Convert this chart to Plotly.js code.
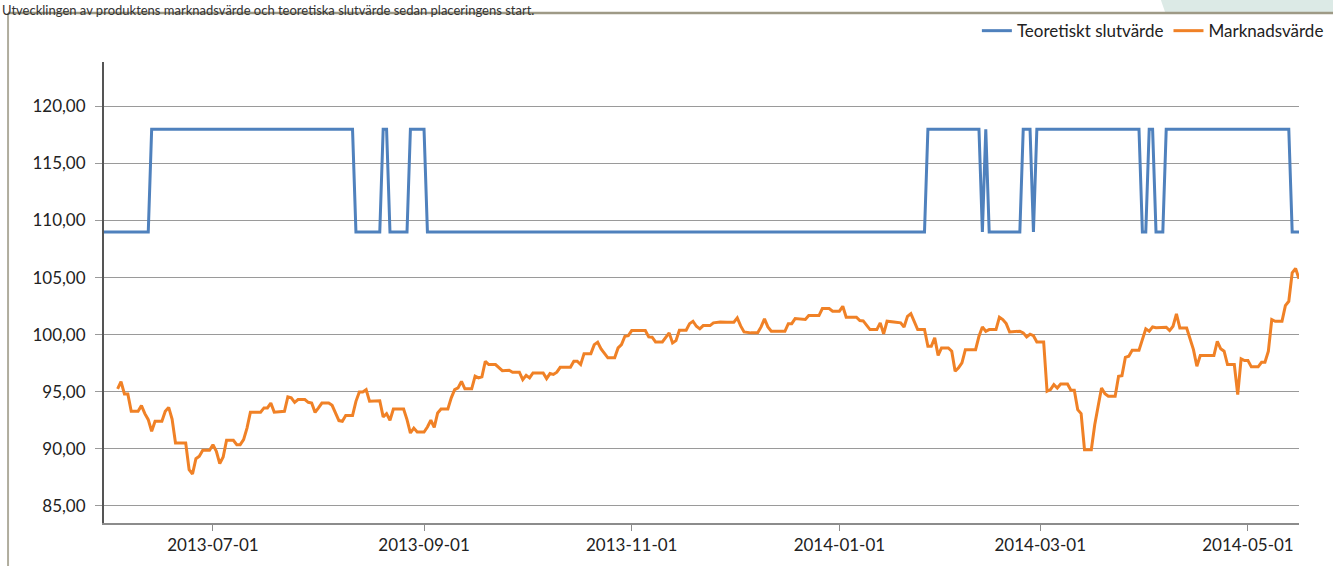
<!DOCTYPE html>
<html><head><meta charset="utf-8">
<script src="https://cdn.plot.ly/plotly-3.0.1.min.js"></script>
<style>html,body{margin:0;padding:0;background:#fff}#chart{width:1333px;height:566px}</style>
</head><body><div id="chart"></div>
<script>
const titleText = "Utvecklingen av produktens marknadsvärde och teoretiska slutvärde sedan placeringens start.";
const seriesNames = ["Teoretiskt slutvärde", "Marknadsvärde"];
const xTickVals = ["2013-07-01","2013-09-01","2013-11-01","2014-01-01","2014-03-01","2014-05-01"];
const xTickText = ["2013-07-01","2013-09-01","2013-11-01","2014-01-01","2014-03-01","2014-05-01"];

const teoDates = ["2013-05-30","2013-06-12","2013-06-13","2013-08-11","2013-08-12","2013-08-19","2013-08-20","2013-08-21","2013-08-22","2013-08-27","2013-08-28","2013-09-01","2013-09-02","2014-01-26","2014-01-27","2014-02-11","2014-02-12","2014-02-13","2014-02-14","2014-02-23","2014-02-24","2014-02-26","2014-02-27","2014-02-28","2014-03-30","2014-03-31","2014-04-01","2014-04-02","2014-04-03","2014-04-04","2014-04-06","2014-04-07","2014-05-13","2014-05-14","2014-05-16"];
const teoValues = [109,109,118,118,109,109,118,118,109,109,118,118,109,109,118,118,109,118,109,109,118,118,109,118,118,109,109,118,118,109,109,118,118,109,109];

const mktDates = ["2013-06-03","2013-06-04","2013-06-05","2013-06-06","2013-06-07","2013-06-09","2013-06-10","2013-06-11","2013-06-12","2013-06-13","2013-06-14","2013-06-16","2013-06-17","2013-06-18","2013-06-19","2013-06-20","2013-06-23","2013-06-24","2013-06-25","2013-06-26","2013-06-27","2013-06-28","2013-06-30","2013-07-01","2013-07-02","2013-07-03","2013-07-04","2013-07-05","2013-07-07","2013-07-08","2013-07-09","2013-07-10","2013-07-11","2013-07-12","2013-07-15","2013-07-16","2013-07-17","2013-07-18","2013-07-19","2013-07-22","2013-07-23","2013-07-24","2013-07-25","2013-07-26","2013-07-28","2013-07-29","2013-07-30","2013-07-31","2013-08-01","2013-08-02","2013-08-04","2013-08-05","2013-08-07","2013-08-08","2013-08-09","2013-08-11","2013-08-12","2013-08-13","2013-08-14","2013-08-15","2013-08-16","2013-08-19","2013-08-20","2013-08-21","2013-08-22","2013-08-23","2013-08-26","2013-08-27","2013-08-28","2013-08-29","2013-08-30","2013-09-01","2013-09-02","2013-09-03","2013-09-04","2013-09-05","2013-09-06","2013-09-08","2013-09-09","2013-09-10","2013-09-11","2013-09-12","2013-09-13","2013-09-15","2013-09-16","2013-09-17","2013-09-18","2013-09-19","2013-09-20","2013-09-22","2013-09-24","2013-09-26","2013-09-27","2013-09-29","2013-09-30","2013-10-01","2013-10-02","2013-10-03","2013-10-06","2013-10-07","2013-10-08","2013-10-09","2013-10-10","2013-10-11","2013-10-14","2013-10-15","2013-10-16","2013-10-17","2013-10-18","2013-10-20","2013-10-21","2013-10-22","2013-10-23","2013-10-25","2013-10-27","2013-10-28","2013-10-29","2013-10-30","2013-10-31","2013-11-01","2013-11-05","2013-11-06","2013-11-07","2013-11-08","2013-11-10","2013-11-12","2013-11-13","2013-11-14","2013-11-15","2013-11-17","2013-11-18","2013-11-19","2013-11-20","2013-11-21","2013-11-22","2013-11-24","2013-11-25","2013-11-27","2013-11-29","2013-12-01","2013-12-02","2013-12-03","2013-12-04","2013-12-06","2013-12-08","2013-12-09","2013-12-10","2013-12-11","2013-12-12","2013-12-16","2013-12-17","2013-12-18","2013-12-19","2013-12-22","2013-12-23","2013-12-26","2013-12-27","2013-12-29","2013-12-30","2014-01-01","2014-01-02","2014-01-03","2014-01-06","2014-01-07","2014-01-08","2014-01-10","2014-01-12","2014-01-13","2014-01-14","2014-01-15","2014-01-17","2014-01-19","2014-01-20","2014-01-21","2014-01-22","2014-01-24","2014-01-26","2014-01-27","2014-01-28","2014-01-29","2014-01-30","2014-01-31","2014-02-02","2014-02-03","2014-02-04","2014-02-05","2014-02-06","2014-02-07","2014-02-10","2014-02-11","2014-02-12","2014-02-13","2014-02-14","2014-02-16","2014-02-17","2014-02-18","2014-02-19","2014-02-20","2014-02-23","2014-02-24","2014-02-25","2014-02-26","2014-02-27","2014-02-28","2014-03-02","2014-03-03","2014-03-04","2014-03-05","2014-03-06","2014-03-07","2014-03-09","2014-03-10","2014-03-11","2014-03-12","2014-03-13","2014-03-14","2014-03-16","2014-03-17","2014-03-18","2014-03-19","2014-03-20","2014-03-21","2014-03-23","2014-03-24","2014-03-25","2014-03-26","2014-03-27","2014-03-28","2014-03-30","2014-03-31","2014-04-01","2014-04-02","2014-04-03","2014-04-04","2014-04-06","2014-04-07","2014-04-08","2014-04-09","2014-04-10","2014-04-11","2014-04-13","2014-04-14","2014-04-15","2014-04-16","2014-04-17","2014-04-21","2014-04-22","2014-04-23","2014-04-24","2014-04-25","2014-04-27","2014-04-28","2014-04-29","2014-04-30","2014-05-01","2014-05-02","2014-05-04","2014-05-05","2014-05-06","2014-05-07","2014-05-08","2014-05-09","2014-05-11","2014-05-12","2014-05-13","2014-05-14","2014-05-15","2014-05-16"];
const mktValues = [95.24,95.88,94.8,94.8,93.27,93.27,93.77,93.07,92.54,91.52,92.4,92.4,93.27,93.62,92.6,90.5,90.5,88.16,87.78,89.12,89.33,89.85,89.85,90.35,89.77,88.68,89.27,90.73,90.73,90.35,90.35,90.79,91.8,93.2,93.2,93.57,93.57,94.0,93.2,93.27,94.53,94.45,94.06,94.3,94.3,94.06,94.0,93.18,93.57,94.0,94.0,93.8,92.46,92.4,92.9,92.9,94.15,94.97,94.97,95.17,94.15,94.2,92.78,93.07,92.49,93.48,93.48,92.54,91.37,91.8,91.46,91.46,91.9,92.49,91.87,93.13,93.48,93.48,94.45,95.18,95.32,95.9,95.24,95.24,96.35,96.2,96.3,97.66,97.37,97.37,96.84,96.87,96.7,96.7,96.05,96.43,96.2,96.64,96.64,96.14,96.58,96.5,96.7,97.13,97.13,97.66,97.66,97.37,98.33,98.33,99.12,99.33,98.75,97.96,97.96,98.83,99.12,99.85,99.91,100.35,100.35,99.8,99.77,99.36,99.36,100.15,99.27,99.47,100.38,100.38,100.96,101.17,100.73,100.5,100.79,100.79,101.03,101.11,101.09,101.09,101.46,100.76,100.23,100.15,100.15,100.67,101.38,100.67,100.29,100.29,100.96,100.96,101.4,101.32,101.67,101.67,102.28,102.28,102.05,102.05,102.48,101.52,101.52,101.23,101.2,100.44,100.44,101.03,100.06,101.17,101.1,101.03,100.67,101.6,101.84,100.44,100.44,98.97,98.97,99.71,98.18,98.83,98.83,98.54,96.78,97.08,97.52,98.68,98.68,99.85,100.67,100.29,100.44,100.44,101.52,101.32,100.96,100.23,100.3,100.15,99.8,100.03,99.9,99.36,99.36,95.03,95.18,95.61,95.32,95.67,95.67,95.12,95.12,93.42,93.07,89.91,89.91,92.1,93.71,95.32,94.82,94.59,94.59,96.35,96.4,98.0,98.1,98.62,98.62,99.56,100.5,100.29,100.67,100.6,100.6,100.64,100.35,100.73,101.81,100.58,100.58,99.56,98.68,97.22,98.16,98.16,99.41,98.75,98.54,97.37,97.37,94.74,97.87,97.72,97.72,97.17,97.17,97.57,97.57,98.54,101.32,101.17,101.17,102.54,102.92,105.41,105.79,104.89];

const FONT = "Lato, 'Open Sans', sans-serif";
const traces = [
  {x: teoDates, y: teoValues, name: seriesNames[0], type: "scatter", mode: "lines",
   line: {color: "#4F81BD", width: 3}, hoverinfo: "skip"},
  {x: mktDates, y: mktValues, name: seriesNames[1], type: "scatter", mode: "lines",
   line: {color: "#F08126", width: 3}, hoverinfo: "skip"}
];
const layout = {
  width: 1333, height: 566,
  margin: {l: 104, r: 34, t: 62, b: 43, pad: 0, autoexpand: false},
  paper_bgcolor: "#ffffff", plot_bgcolor: "#ffffff",
  separators: ",.",
  font: {family: FONT, size: 17, color: "#222222"},
  showlegend: true,
  legend: {orientation: "h", x: 1.025, xanchor: "right", y: 1.067, yanchor: "middle",
           font: {family: FONT, size: 17, color: "#222222"}, bgcolor: "rgba(0,0,0,0)",
           traceorder: "normal"},
  xaxis: {type: "date", range: ["2013-05-30", "2014-05-16"], tickvals: xTickVals, ticktext: xTickText,
          showgrid: false, zeroline: false, showline: true, linecolor: "#8c8c8c", linewidth: 1.5,
          ticks: "outside", ticklen: 6, tickcolor: "#8c8c8c", tickwidth: 1,
          tickfont: {family: FONT, size: 17, color: "#222222"}, fixedrange: true},
  yaxis: {range: [83.48, 123.9], tick0: 85, dtick: 5, tickformat: ".2f",
          showgrid: true, gridcolor: "#9a9a9a", gridwidth: 1.5, zeroline: false,
          showline: true, linecolor: "#555555", linewidth: 2,
          ticks: "outside", ticklen: 7, tickcolor: "#9a9a9a", tickwidth: 1.5,
          ticklabelstandoff: 6,
          tickfont: {family: FONT, size: 17, color: "#222222"}, fixedrange: true},
  shapes: [
    {type: "path", xref: "paper", yref: "paper", path: "M 0.8837 1.14 L 0.8879 1.1085 L 1.04 1.1085 L 1.04 1.14 Z",
     fillcolor: "#dceae6", line: {width: 0}, layer: "below"},
    {type: "line", xref: "paper", yref: "paper", x0: -0.0803, x1: 1.04, y0: 1.1063, y1: 1.1063,
     line: {color: "#9e9a86", width: 2.5}},
    {type: "line", xref: "paper", yref: "paper", x0: -0.0803, x1: -0.0803, y0: 1.1063, y1: -0.1,
     line: {color: "#b0ad9e", width: 2}}
  ],
  annotations: [
    {text: titleText, xref: "paper", yref: "paper", x: -0.087, xanchor: "left", y: 1.1345, yanchor: "top",
     showarrow: false, font: {family: FONT, size: 13, color: "#333333"}}
  ]
};
Plotly.newPlot("chart", traces, layout, {staticPlot: true, displayModeBar: false});
</script></body></html>
